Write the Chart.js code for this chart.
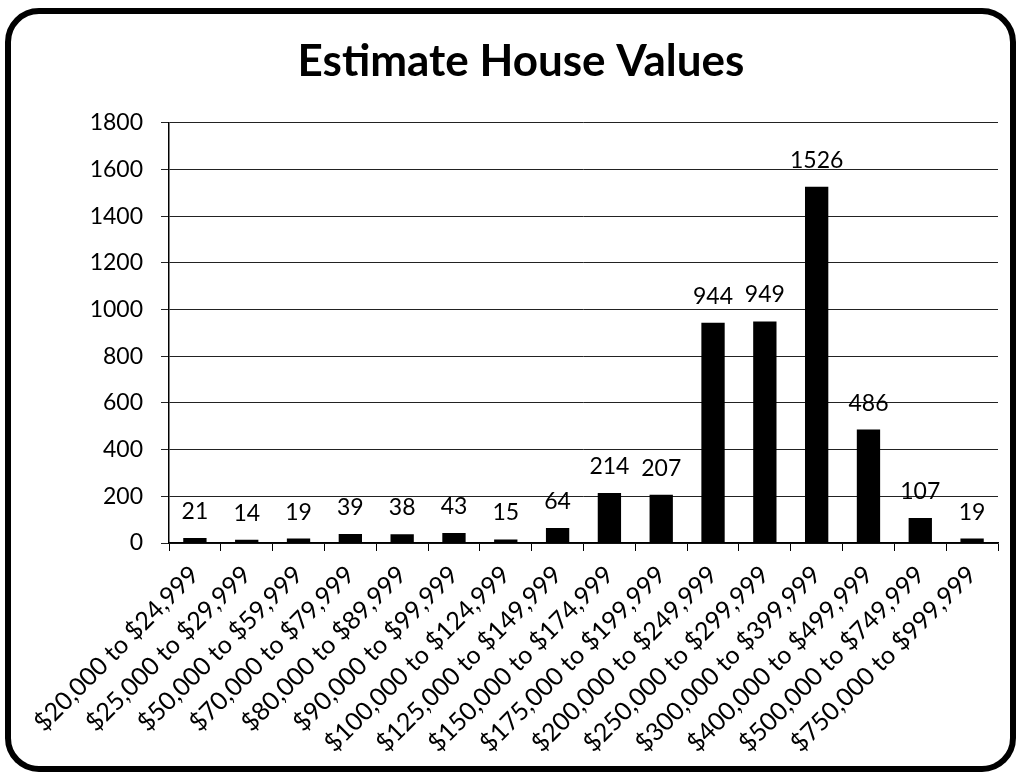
<!DOCTYPE html>
<html>
<head>
<meta charset="utf-8">
<script src="https://cdn.jsdelivr.net/npm/chart.js@4"></script>
<style>
  body { margin: 0; background: #fff; }
  #frame {
    position: absolute; left: 5px; top: 8px; width: 1011px; height: 764px;
    box-sizing: border-box; border: 6px solid #000; border-radius: 34px;
  }
  #wrap { position: absolute; left: 0; top: 0; width: 1021px; height: 774px; }
</style>
</head>
<body>
<div id="frame"></div>
<div id="wrap"><canvas id="chart" width="1021" height="774"></canvas></div>
<script>
const categories = [
  '$20,000 to $24,999', '$25,000 to $29,999', '$50,000 to $59,999', '$70,000 to $79,999',
  '$80,000 to $89,999', '$90,000 to $99,999', '$100,000 to $124,999', '$125,000 to $149,999',
  '$150,000 to $174,999', '$175,000 to $199,999', '$200,000 to $249,999', '$250,000 to $299,999',
  '$300,000 to $399,999', '$400,000 to $499,999', '$500,000 to $749,999', '$750,000 to $999,999'
];
const houseCounts = [21, 14, 19, 39, 38, 43, 15, 64, 214, 207, 944, 949, 1526, 486, 107, 19];
const yTicks = [0, 200, 400, 600, 800, 1000, 1200, 1400, 1600, 1800];

const fontFamily = 'Lato, "Open Sans", sans-serif';

// value labels above each bar
const barLabels = {
  id: 'barLabels',
  afterDatasetsDraw(chart) {
    const ctx = chart.ctx;
    const meta = chart.getDatasetMeta(0);
    ctx.save();
    ctx.font = '23px ' + fontFamily;
    ctx.fillStyle = '#000';
    ctx.textAlign = 'center';
    ctx.textBaseline = 'alphabetic';
    meta.data.forEach((bar, i) => {
      ctx.fillText(String(houseCounts[i]), bar.x, bar.y - 19);
    });
    ctx.restore();
  }
};

new Chart(document.getElementById('chart'), {
  type: 'bar',
  data: {
    labels: categories,
    datasets: [{
      data: houseCounts,
      backgroundColor: '#000',
      borderWidth: 0,
      barPercentage: 0.45,
      categoryPercentage: 1
    }]
  },
  options: {
    responsive: false,
    animation: false,
    layout: { padding: { left: 44, right: 23, top: 0, bottom: 0 } },
    plugins: {
      legend: { display: false },
      tooltip: { enabled: false },
      title: {
        display: true,
        text: 'Estimate House Values',
        color: '#000',
        font: { family: fontFamily, size: 44, weight: 'bold', lineHeight: 1.2 },
        padding: { top: 35, bottom: 35 }
      }
    },
    scales: {
      x: {
        offset: true,
        grid: { display: true, drawOnChartArea: false, tickLength: 8, color: '#000' },
        border: { display: true, color: '#000', width: 1.5 },
        ticks: {
          color: '#000',
          font: { family: fontFamily, size: 25 },
          minRotation: 45,
          maxRotation: 45,
          autoSkip: false,
          padding: 9
        },
        afterFit(scale) { scale.height = 231; }
      },
      y: {
        min: 0,
        max: 1800,
        afterBuildTicks(scale) { scale.ticks = yTicks.map(v => ({ value: v })); },
        grid: { color: '#222', lineWidth: 1, tickLength: 8 },
        border: { display: true, color: '#000', width: 1.5 },
        ticks: {
          color: '#000',
          font: { family: fontFamily, size: 23 },
          padding: 18,
          callback: v => String(v)
        },
        afterFit(scale) { scale.width = 125; }
      }
    }
  },
  plugins: [barLabels]
});
</script>
</body>
</html>
